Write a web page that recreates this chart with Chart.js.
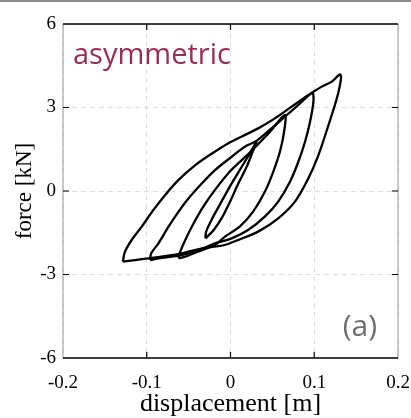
<!DOCTYPE html>
<html>
<head>
<meta charset="utf-8">
<script src="https://cdn.jsdelivr.net/npm/chart.js@4/dist/chart.umd.min.js"></script>
<style>
  html, body { margin: 0; padding: 0; background: #fff; }
  #wrap { width: 411px; height: 418px; }
</style>
</head>
<body>
<div id="wrap"><canvas id="chart" width="411" height="418"></canvas></div>
<script>
// 축 눈금
const xTicks = [-0.2, -0.1, 0, 0.1, 0.2];
const yTicks = [-6, -3, 0, 3, 6];

// 바깥 루프 (진폭 약 0.13 m)
const loopAX = [-0.1286, -0.126, -0.118, -0.106, -0.092, -0.078, -0.062, -0.042, -0.022, -0.003, 0.013, 0.033, 0.053, 0.073, 0.093, 0.109, 0.121, 0.1307,
                0.132, 0.127, 0.117, 0.105, 0.093, 0.077, 0.057, 0.033, 0.009, -0.007, -0.034, -0.058, -0.078, -0.098, -0.114, -0.1286];
const loopAY = [-2.54, -2.18, -1.76, -1.28, -0.68, -0.14, 0.40, 0.93, 1.35, 1.71, 1.95, 2.25, 2.61, 3.03, 3.45, 3.75, 3.93, 4.19,
                4.05, 3.33, 2.37, 1.29, 0.46, -0.38, -0.98, -1.46, -1.76, -1.94, -2.06, -2.24, -2.34, -2.42, -2.48, -2.54];

// 두번째 루프 (진폭 약 0.1 m)
const loopBX = [-0.096, -0.0947, -0.086, -0.074, -0.062, -0.050, -0.034, -0.0185, 0.0014, 0.017, 0.031, 0.049, 0.065, 0.081, 0.0977,
                0.099, 0.095, 0.089, 0.081, 0.071, 0.057, 0.041, 0.021, 0.0014, -0.0185, -0.042, -0.066, -0.082, -0.096];
const loopBY = [-2.48, -2.24, -1.88, -1.28, -0.74, -0.26, 0.28, 0.75, 1.23, 1.59, 1.80, 2.25, 2.67, 3.09, 3.52,
                3.21, 2.49, 1.77, 1.05, 0.33, -0.38, -0.92, -1.40, -1.70, -1.88, -2.18, -2.34, -2.40, -2.48];

// 세번째 루프 (진폭 약 0.065 m)
const loopCX = [-0.062, -0.060, -0.054, -0.044, -0.0325, -0.0185, -0.0026, 0.0134, 0.027, 0.047, 0.065,
                0.064, 0.059, 0.051, 0.041, 0.027, 0.011, -0.0066, -0.0185, -0.039, -0.054, -0.062];
const loopCY = [-2.42, -2.18, -1.76, -1.16, -0.56, 0.04, 0.64, 1.11, 1.50, 2.12, 2.73,
                2.13, 1.41, 0.69, -0.03, -0.74, -1.28, -1.64, -1.94, -2.18, -2.36, -2.42];

// 안쪽 좁은 루프 (진폭 약 0.03 m)
const loopDX = [-0.030, -0.029, -0.022, -0.012, -0.001, 0.011, 0.022, 0.031, 0.027, 0.019, 0.009, 0.000, -0.010, -0.020, -0.028, -0.030];
const loopDY = [-1.70, -1.45, -1.00, -0.45, 0.15, 0.75, 1.30, 1.77, 1.45, 0.85, 0.25, -0.35, -0.95, -1.40, -1.65, -1.70];

const serif = "'Liberation Serif', 'Times New Roman', serif";

function toPoints(xs, ys) {
  return xs.map((v, i) => ({ x: v, y: ys[i] }));
}

function loopDataset(xs, ys) {
  return {
    data: toPoints(xs, ys),
    showLine: true,
    borderColor: '#000',
    borderWidth: 2.3,
    pointRadius: 0,
    tension: 0.3,
    fill: false
  };
}

// 테두리, 안쪽 눈금, 주석 글자
const framePlugin = {
  id: 'frame',
  afterDraw(chart) {
    const { ctx, chartArea: a, scales } = chart;
    const sx = scales.x, sy = scales.y;
    ctx.save();

    // 그림 맨 위 회색 선
    ctx.strokeStyle = '#8a8a8a';
    ctx.lineWidth = 2;
    ctx.beginPath();
    ctx.moveTo(0, 1); ctx.lineTo(chart.width, 1);
    ctx.stroke();

    // 좌우 테두리 (회색)
    ctx.strokeStyle = '#a8a8a8';
    ctx.lineWidth = 1.2;
    ctx.beginPath();
    ctx.moveTo(a.left, a.top); ctx.lineTo(a.left, a.bottom);
    ctx.moveTo(a.right, a.top); ctx.lineTo(a.right, a.bottom);
    ctx.stroke();

    // 위아래 테두리 (검정)
    ctx.strokeStyle = '#000';
    ctx.lineWidth = 1.5;
    ctx.beginPath();
    ctx.moveTo(a.left, a.top); ctx.lineTo(a.right, a.top);
    ctx.moveTo(a.left, a.bottom); ctx.lineTo(a.right, a.bottom);
    ctx.stroke();

    // 안쪽 방향 눈금
    ctx.lineWidth = 1.2;
    ctx.beginPath();
    xTicks.slice(1, -1).forEach(v => {
      const px = sx.getPixelForValue(v);
      ctx.moveTo(px, a.top); ctx.lineTo(px, a.top + 6);
      ctx.moveTo(px, a.bottom); ctx.lineTo(px, a.bottom - 6);
    });
    yTicks.slice(1, -1).forEach(v => {
      const py = sy.getPixelForValue(v);
      ctx.moveTo(a.left, py); ctx.lineTo(a.left + 6, py);
      ctx.moveTo(a.right, py); ctx.lineTo(a.right - 6, py);
    });
    ctx.stroke();

    // 주석
    ctx.textBaseline = 'alphabetic';
    ctx.textAlign = 'left';
    ctx.fillStyle = '#9b2d52';
    ctx.font = "29px 'Open Sans'";
    ctx.fillText('asymmetric', a.left + 10, a.top + 40);

    ctx.textAlign = 'right';
    ctx.fillStyle = '#6e6e6e';
    ctx.font = "30px 'Open Sans'";
    ctx.fillText('(a)', a.right - 21, a.bottom - 22);

    ctx.restore();
  }
};

document.addEventListener('DOMContentLoaded', () => {
  const ctx = document.getElementById('chart').getContext('2d');
  new Chart(ctx, {
    type: 'scatter',
    data: {
      datasets: [
        loopDataset(loopAX, loopAY),
        loopDataset(loopBX, loopBY),
        loopDataset(loopCX, loopCY),
        loopDataset(loopDX, loopDY)
      ]
    },
    options: {
      responsive: false,
      animation: false,
      devicePixelRatio: 1,
      layout: { padding: { left: 0, top: 24, right: 13, bottom: 0 } },
      plugins: {
        legend: { display: false },
        tooltip: { enabled: false }
      },
      scales: {
        x: {
          type: 'linear',
          min: -0.2,
          max: 0.2,
          afterBuildTicks: s => { s.ticks = xTicks.map(v => ({ value: v })); },
          afterFit: s => { s.height = 60; s.paddingLeft = 0; s.paddingRight = 0; },
          border: { display: false, dash: [5, 4] },
          grid: { color: '#dedede', lineWidth: 1, drawTicks: false },
          ticks: {
            color: '#000',
            padding: 14,
            maxRotation: 0,
            font: { family: serif, size: 19 },
            callback: v => String(v)
          },
          title: {
            display: true,
            text: 'displacement [m]',
            color: '#000',
            font: { family: serif, size: 26, lineHeight: 1 },
            padding: { top: 0, bottom: 1 }
          }
        },
        y: {
          type: 'linear',
          min: -6,
          max: 6,
          afterBuildTicks: s => { s.ticks = yTicks.map(v => ({ value: v })); },
          afterFit: s => { s.width = 63; s.paddingTop = 0; s.paddingBottom = 0; },
          border: { display: false, dash: [5, 4] },
          grid: { color: '#dedede', lineWidth: 1, drawTicks: false },
          ticks: {
            color: '#000',
            padding: 7,
            font: { family: serif, size: 19 },
            callback: v => String(v)
          },
          title: {
            display: true,
            text: 'force [kN]',
            color: '#000',
            font: { family: serif, size: 23, lineHeight: 1 },
            padding: { top: 13, bottom: 0 }
          }
        }
      }
    },
    plugins: [framePlugin]
  });
});
</script>
</body>
</html>
